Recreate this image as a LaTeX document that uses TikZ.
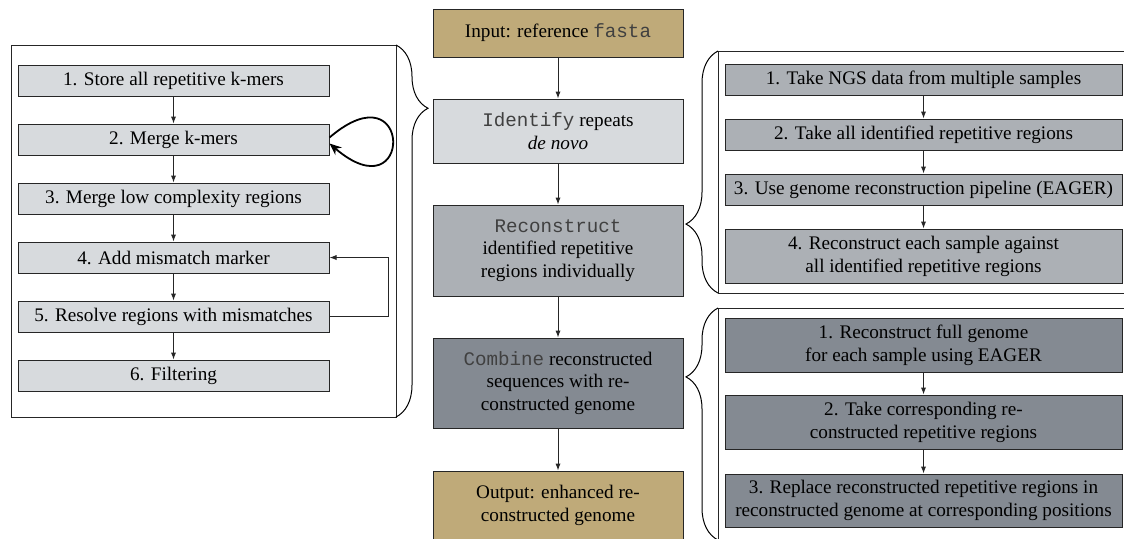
\documentclass[tikz,border=0pt]{standalone}
\usepackage{fontspec}
\setmainfont{Liberation Serif}
\setmonofont{Liberation Mono}
\usetikzlibrary{arrows.meta,decorations.pathreplacing}
\definecolor{tanbox}{RGB}{191,170,121}
\definecolor{lgray}{RGB}{215,218,221}
\definecolor{mgray}{RGB}{172,176,181}
\definecolor{dgray}{RGB}{132,138,146}
\newcommand\monow[1]{{\ttfamily\color{black!75}#1}}
\tikzset{
  box/.style={draw=black!85, line width=0.5pt, align=center, inner sep=0pt,
              font=\fontsize{9.6}{11.4}\selectfont},
  cbox/.style={box, minimum width=125pt},
  lbox/.style={box, fill=lgray, minimum width=155.5pt, minimum height=15.5pt},
  rbox/.style={box, minimum width=198.5pt, minimum height=15.5pt},
  arr/.style={-{Latex[length=3.5pt,width=2.6pt]}, line width=0.5pt, draw=black!85},
  looparr/.style={-{Stealth[length=6pt,width=5pt,inset=2pt]}, line width=0.9pt},
  frame/.style={draw=black!85, line width=0.5pt},
  brc/.style={draw=black, line width=0.5pt, decorate, decoration={brace, amplitude=16pt}},
}
\begin{document}
\begin{tikzpicture}[x=0.5pt,y=-0.5pt]
\useasboundingbox (0,0) rectangle (1124,538);
\clip (0,0) rectangle (1124,538);

% ---- centre column
\node[cbox, fill=tanbox, minimum height=24pt] (in) at (558,33) {Input: reference \monow{fasta}};
\node[cbox, fill=lgray, minimum height=32pt] (id) at (558,131) {\monow{Identify} repeats\\\textit{de novo}};
\node[cbox, fill=mgray, minimum height=45.5pt] (rc) at (558,250.5) {\monow{Reconstruct}\\identified repetitive\\regions individually};
\node[cbox, fill=dgray, minimum height=45pt] (cb) at (558,383) {\monow{Combine} reconstructed\\sequences with re-\\constructed genome};
\node[cbox, fill=tanbox, minimum height=34.5pt] (out) at (558,505.5) {Output: enhanced re-\\constructed genome};
\draw[arr] (in) -- (id);
\draw[arr] (id) -- (rc);
\draw[arr] (rc) -- (cb);
\draw[arr] (cb) -- (out);

% ---- left frame
\coordinate (lfnw) at (11,45);
\coordinate (lfne) at (396,45);
\coordinate (lfse) at (396,417);
\draw[frame] (lfnw) rectangle (lfse);
\draw[brc, decoration={aspect=0.17}] (lfne) -- (lfse);

\node[lbox] (l1) at (173.5,80.5) {1. Store all repetitive k-mers};
\node[lbox] (l2) at (173.5,139.5) {2. Merge k-mers};
\node[lbox] (l3) at (173.5,198.5) {3. Merge low complexity regions};
\node[lbox] (l4) at (173.5,257.5) {4. Add mismatch marker};
\node[lbox] (l5) at (173.5,316.5) {5. Resolve regions with mismatches};
\node[lbox] (l6) at (173.5,375.5) {6. Filtering};
\draw[arr] (l1) -- (l2);
\draw[arr] (l2) -- (l3);
\draw[arr] (l3) -- (l4);
\draw[arr] (l4) -- (l5);
\draw[arr] (l5) -- (l6);
\draw[arr] (l5.east) -- ++(59,0) |- (l4.east);
\draw[looparr] ([yshift=1pt]l2.east) .. controls +(84,-72) and +(84,72) .. ([yshift=-2pt]l2.east);

% ---- right top frame
\coordinate (rtnw) at (718,51);
\coordinate (rtsw) at (718,293);
\coordinate (rtse) at (1140,293);
\draw[frame] (rtnw) rectangle (rtse);
\draw[brc, decoration={mirror, aspect=0.715}] (rtnw) -- (rtsw);

\node[rbox, fill=mgray] (t1) at (923.5,79.5) {1. Take NGS data from multiple samples};
\node[rbox, fill=mgray] (t2) at (923.5,134.5) {2. Take all identified repetitive regions};
\node[rbox, fill=mgray] (t3) at (923.5,189.5) {3. Use genome reconstruction pipeline (EAGER)};
\node[rbox, fill=mgray, minimum height=27pt] (t4) at (923.5,256) {4. Reconstruct each sample against\\all identified repetitive regions};
\draw[arr] (t1) -- (t2);
\draw[arr] (t2) -- (t3);
\draw[arr] (t3) -- (t4);

% ---- right bottom frame
\coordinate (rbnw) at (718,308);
\coordinate (rbsw) at (718,540);
\coordinate (rbse) at (1140,540);
\draw[frame] (rbnw) rectangle (rbse);
\draw[brc, decoration={mirror, aspect=0.297}] (rbnw) -- (rbsw);

\node[rbox, fill=dgray, minimum height=27pt] (b1) at (923.5,345) {1. Reconstruct full genome\\for each sample using EAGER};
\node[rbox, fill=dgray, minimum height=27pt] (b2) at (923.5,422) {2. Take corresponding re-\\constructed repetitive regions};
\node[rbox, fill=dgray, minimum height=26.5pt] (b3) at (923.5,500.5) {3. Replace reconstructed repetitive regions in\\reconstructed genome at corresponding positions};
\draw[arr] (b1) -- (b2);
\draw[arr] (b2) -- (b3);
\end{tikzpicture}
\end{document}
